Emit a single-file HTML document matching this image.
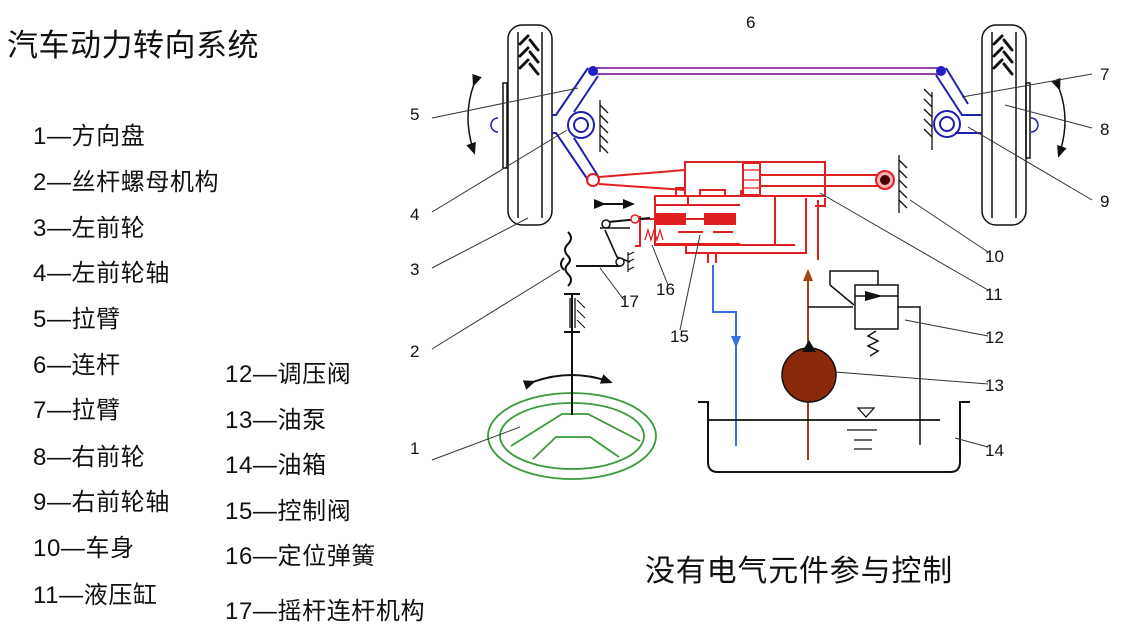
<!DOCTYPE html>
<html><head><meta charset="utf-8"><style>
body{margin:0;width:1126px;height:634px;background:#fff;overflow:hidden;position:relative;font-family:"Liberation Sans","Noto Sans CJK SC",sans-serif;color:#111}
.t{position:absolute;white-space:nowrap;line-height:1}
.l{font-size:24px;letter-spacing:0.6px}
</style></head><body>
<div class="t" style="left:7px;top:30px;font-size:31px;letter-spacing:0.5px">汽车动力转向系统</div>
<div class="t l" style="left:33px;top:125px">1—方向盘</div>
<div class="t l" style="left:33px;top:171px">2—丝杆螺母机构</div>
<div class="t l" style="left:33px;top:217px">3—左前轮</div>
<div class="t l" style="left:33px;top:262px">4—左前轮轴</div>
<div class="t l" style="left:33px;top:308px">5—拉臂</div>
<div class="t l" style="left:33px;top:354px">6—连杆</div>
<div class="t l" style="left:33px;top:399px">7—拉臂</div>
<div class="t l" style="left:33px;top:446px">8—右前轮</div>
<div class="t l" style="left:33px;top:491px">9—右前轮轴</div>
<div class="t l" style="left:33px;top:537px">10—车身</div>
<div class="t l" style="left:33px;top:584px">11—液压缸</div>
<div class="t l" style="left:225px;top:363px">12—调压阀</div>
<div class="t l" style="left:225px;top:409px">13—油泵</div>
<div class="t l" style="left:225px;top:454px">14—油箱</div>
<div class="t l" style="left:225px;top:500px">15—控制阀</div>
<div class="t l" style="left:225px;top:545px">16—定位弹簧</div>
<div class="t l" style="left:225px;top:600px">17—摇杆连杆机构</div>
<div class="t" style="left:645px;top:557px;font-size:30px;letter-spacing:0.8px">没有电气元件参与控制</div>

<svg width="1126" height="634" style="position:absolute;left:0;top:0" font-family="Liberation Sans, sans-serif" font-size="17" fill="none">
<defs>
<marker id="ak" markerUnits="userSpaceOnUse" markerWidth="12" markerHeight="12" refX="9" refY="6" orient="auto"><path d="M0,1L12,6L0,11z" fill="#111"/></marker>
<marker id="ab" markerUnits="userSpaceOnUse" markerWidth="12" markerHeight="14" refX="9" refY="7" orient="auto"><path d="M0,2L12,7L0,12z" fill="#3a6fe0"/></marker>
<marker id="ar" markerUnits="userSpaceOnUse" markerWidth="12" markerHeight="14" refX="9" refY="7" orient="auto"><path d="M0,2L12,7L0,12z" fill="#a0400f"/></marker>
</defs>
<!-- wheels -->
<g stroke="#111" stroke-width="1.5">
<rect x="508" y="25" width="44" height="200" rx="14"/>
<line x1="518" y1="32" x2="518" y2="218"/><line x1="542" y1="32" x2="542" y2="218"/>
<rect x="503" y="83" width="4" height="85"/>
<rect x="982" y="25" width="44" height="200" rx="14"/>
<line x1="992" y1="32" x2="992" y2="218"/><line x1="1016" y1="32" x2="1016" y2="218"/>
<rect x="1026" y="83" width="4" height="75"/>
</g>
<g stroke="#111" stroke-width="3" stroke-linecap="round">
<path d="M520,44l8,-8M530,40l8,10M520,56l8,-8M530,52l8,10M520,68l8,-8M530,64l8,10"/>
<path d="M994,44l8,-8M1004,40l8,10M994,56l8,-8M1004,52l8,10M994,68l8,-8M1004,64l8,10"/>
</g>
<path d="M498,118a6,6 0 0 0 0,14" stroke="#2020b0" stroke-width="1.5"/>
<path d="M1031,118a6,6 0 0 1 0,14" stroke="#2020b0" stroke-width="1.5"/>
<!-- curved arrows -->
<path d="M474,84Q462,117 474,152" stroke="#111" stroke-width="1.5" marker-start="url(#ak)" marker-end="url(#ak)"/>
<path d="M1059,88Q1071,120 1059,155" stroke="#111" stroke-width="1.5" marker-start="url(#ak)" marker-end="url(#ak)"/>
<!-- tie rod -->
<line x1="593" y1="68" x2="941" y2="68" stroke="#8a2a9a" stroke-width="1.8"/>
<line x1="593" y1="74" x2="941" y2="74" stroke="#8a2a9a" stroke-width="1.8"/>
<!-- left linkage -->
<g stroke="#2020b0" stroke-width="2">
<path d="M588,68L556,115L552,115M598,76L574,112"/>
<path d="M552,133L556,133L588,180M574,138L598,176"/>
<circle cx="581" cy="125" r="13"/><circle cx="581" cy="125" r="7"/>
</g>
<circle cx="593" cy="71" r="5" fill="#2020c0"/>
<g stroke="#111" stroke-width="1.3">
<line x1="600" y1="100" x2="600" y2="152"/>
<path d="M600,105l8,8M600,115l8,8M600,125l8,8M600,135l8,8M600,145l8,8"/>
</g>
<!-- right linkage -->
<g stroke="#2020b0" stroke-width="2">
<path d="M936,75L962,115L982,115M946,68L968,104"/>
<path d="M955,133L982,133"/>
<circle cx="947" cy="124" r="13"/><circle cx="947" cy="124" r="7"/>
</g>
<circle cx="941" cy="71" r="5" fill="#2020c0"/>
<g stroke="#111" stroke-width="1.3">
<line x1="932" y1="92" x2="932" y2="150"/>
<path d="M932,97l-8,-8M932,107l-8,-8M932,117l-8,-8M932,127l-8,-8M932,137l-8,-8"/>
<line x1="899" y1="155" x2="899" y2="213"/>
<path d="M899,160l8,8M899,170l8,8M899,180l8,8M899,190l8,8M899,200l8,8"/>
</g>
<!-- red hydraulics -->
<g stroke="#e02020" stroke-width="2">
<circle cx="593" cy="180" r="6"/>
<path d="M599,177L685,170M599,184L685,190"/>
<rect x="685" y="162" width="140" height="34"/>
<rect x="743" y="163" width="17" height="32" fill="#fff"/>
<path d="M743,170h17M743,180h17M743,188h17" stroke-width="1.2"/>
<path d="M760,175H880M760,186H880"/>
<path d="M825,198v8h-10M825,198"/>
<path d="M676,196v-8h9M660,196h28v8M700,196v-6h25v6h16v-6"/>
<path d="M655,205h85M655,244h85M655,205v40"/>
<rect x="655" y="196" width="120" height="49"/>
<path d="M640,216v30h-5M640,219h95"/>
<rect x="655" y="214" width="30" height="10" fill="#e02020"/>
<rect x="705" y="214" width="30" height="10" fill="#e02020"/>
<path d="M645,240l3,-10 3,10 3,-10 3,10 3,-10 3,10" stroke-width="1.3"/>
<path d="M678,232h25M713,232h20"/>
<path d="M686,245v8h120v-55M775,196v49h20"/>
<path d="M818,200v60M708,253v10M716,253v10"/>
</g>
<circle cx="885" cy="180" r="9" fill="#f8b0b0" stroke="#e02020" stroke-width="2"/>
<circle cx="885" cy="180" r="5" fill="#400"/>
<!-- blue return -->
<path d="M713,265V312H736V345" stroke="#3a6fe0" stroke-width="2" marker-end="url(#ab)"/>
<line x1="736" y1="345" x2="736" y2="446" stroke="#3a6fe0" stroke-width="2"/>
<!-- brown supply -->
<line x1="808" y1="460" x2="808" y2="272" stroke="#a0400f" stroke-width="2" marker-end="url(#ar)"/>
<circle cx="809" cy="375" r="27" fill="#8b2a0a" stroke="#111" stroke-width="1.5"/>
<path d="M802,352l7,-12 7,12z" fill="#111"/>
<!-- relief valve -->
<g stroke="#111" stroke-width="1.5">
<path d="M808,307H853M897,307H920V445"/>
<rect x="855" y="285" width="43" height="44"/>
<path d="M855,296H898"/>
<path d="M830,285v-14h48v14M830,285l24,20"/>
<path d="M876,331l-8,5 10,5 -10,5 10,5 -8,5"/>
</g>
<path d="M865,291l18,5 -18,5z" fill="#111"/>
<!-- tank -->
<g stroke="#111" stroke-width="2">
<path d="M698,402h10v60q0,10 10,10h232q10,0 10,-10v-60h10"/>
<line x1="708" y1="420" x2="940" y2="420" stroke-width="1.8"/>
</g>
<g stroke="#111" stroke-width="1.3">
<path d="M858,408h16l-8,9z"/>
<path d="M847,430h30M854,440h18M854,449h18"/>
</g>
<!-- steering column -->
<g stroke="#111" stroke-width="2">
<line x1="572" y1="294" x2="572" y2="415"/>
<path d="M568,232q6,6 0,12q-6,6 0,12q4,4 0,8 q-5,5 0,10 q6,6 0,12"/>
<path d="M564,258q-6,6 0,12" />
<path d="M564,294h16M564,332h16"/>
<path d="M570,298v30M575,298v30" stroke-width="1.3"/>
<path d="M577,300l8,8M577,310l8,8M577,320l8,8" stroke-width="1"/>
<path d="M576,266H620" />
<path d="M605,230L617,257L630,262M600,228l30,0" stroke-width="1.6"/>
<path d="M608,222L650,218"/>
</g>
<circle cx="606" cy="224" r="4" fill="#fff" stroke="#111" stroke-width="1.5"/>
<circle cx="620" cy="262" r="4" fill="#fff" stroke="#111" stroke-width="1.5"/>
<circle cx="635" cy="219" r="4" fill="#fff" stroke="#e02020" stroke-width="1.5"/>
<path d="M628,252l0,20M628,255l6,-3M628,262l6,-3M628,270l6,-3" stroke="#111" stroke-width="1.2"/>
<path d="M603,204H632" stroke="#111" stroke-width="2" marker-start="url(#ak)" marker-end="url(#ak)"/>
<path d="M533,382Q572,368 610,382" stroke="#111" stroke-width="2" marker-start="url(#ak)" marker-end="url(#ak)"/>
<!-- steering wheel -->
<g stroke="#3a9a3a" stroke-width="1.8">
<ellipse cx="572" cy="436" rx="84" ry="43"/>
<ellipse cx="572" cy="436" rx="72" ry="33"/>
<path d="M511,446L562,414H588L640,441M533,459L556,437H590L619,457"/>
</g>
<line x1="572" y1="380" x2="572" y2="415" stroke="#111" stroke-width="2"/>
<!-- leader lines -->
<g stroke="#333" stroke-width="1">
<path d="M432,118L578,88M432,212L567,130M432,268L528,218M432,349L560,270M432,460L520,427"/>
<path d="M1092,74L962,97M1092,128L1005,105M1092,200L968,127"/>
<path d="M988,252L910,200M988,290L820,193M988,336L905,320M988,384L835,372M988,447L955,438"/>
<path d="M668,285L652,245M680,330L700,235M624,300L600,268"/>
</g>
<g fill="#111" stroke="none">
<text x="746" y="28">6</text><text x="410" y="120">5</text><text x="1100" y="80">7</text>
<text x="1100" y="135">8</text><text x="410" y="220">4</text><text x="1100" y="207">9</text>
<text x="410" y="275">3</text><text x="985" y="262">10</text><text x="985" y="300">11</text>
<text x="656" y="295">16</text><text x="620" y="307">17</text><text x="410" y="357">2</text>
<text x="670" y="342">15</text><text x="985" y="343">12</text><text x="985" y="391">13</text>
<text x="410" y="454">1</text><text x="985" y="456">14</text>
</g>
</svg>
</body></html>
